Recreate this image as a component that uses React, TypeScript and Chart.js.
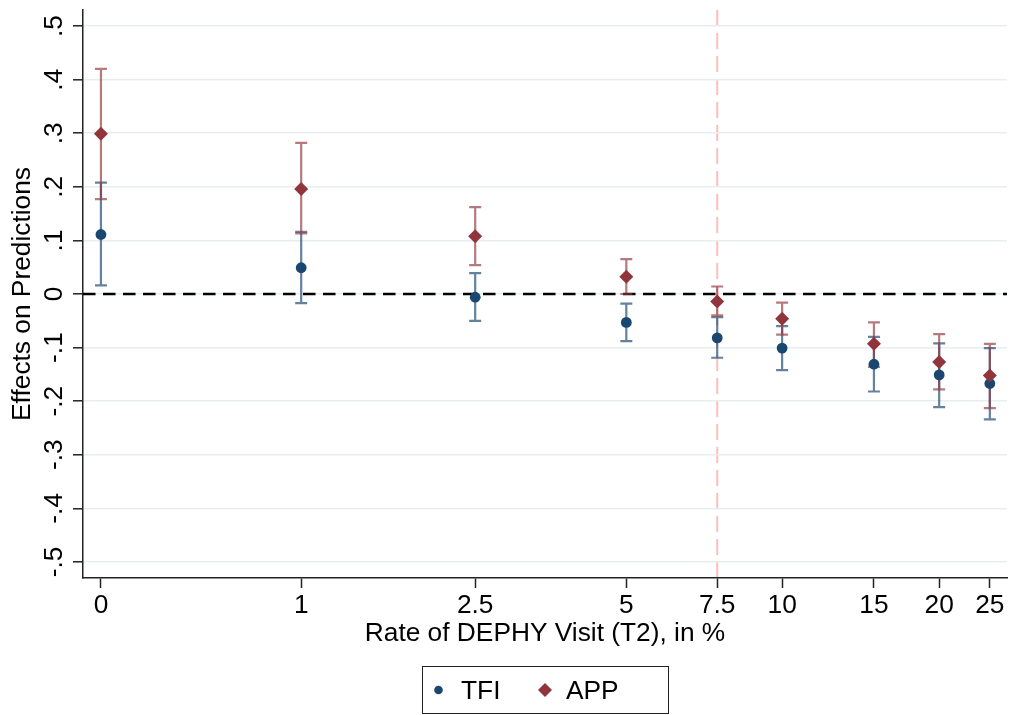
import React, { useEffect, useRef } from "react";
import { Chart, registerables } from "chart.js";

Chart.register(...registerables);

// ---------- data ----------
const rates = [0, 1, 2.5, 5, 7.5, 10, 15, 20, 25];
const xTickLabels = ["0", "1", "2.5", "5", "7.5", "10", "15", "20", "25"];
const yTickValues = [0.5, 0.4, 0.3, 0.2, 0.1, 0, -0.1, -0.2, -0.3, -0.4, -0.5];
const yTickLabels = [".5", ".4", ".3", ".2", ".1", "0", "-.1", "-.2", "-.3", "-.4", "-.5"];

const tfiEst = [0.111, 0.049, -0.006, -0.053, -0.082, -0.101, -0.131, -0.151, -0.167];
const tfiLow = [0.016, -0.017, -0.050, -0.088, -0.119, -0.142, -0.182, -0.211, -0.234];
const tfiHigh = [0.208, 0.116, 0.039, -0.018, -0.043, -0.060, -0.080, -0.092, -0.101];

const appEst = [0.299, 0.196, 0.108, 0.032, -0.014, -0.046, -0.093, -0.127, -0.152];
const appLow = [0.177, 0.113, 0.054, 0.000, -0.040, -0.076, -0.136, -0.178, -0.213];
const appHigh = [0.420, 0.282, 0.162, 0.065, 0.014, -0.016, -0.053, -0.075, -0.093];

const seriesNames = ["TFI", "APP"];
const zeroValue = 0;
const cutoffRate = 7.5;

// ---------- styles ----------
const FONT = "'Liberation Sans', Arial, Helvetica, sans-serif";
const FS = 26.3;
const NAVY = "#1a476f";
const MAROON = "#90353b";
const NAVY_CI = "rgba(26,71,111,0.68)";
const MAROON_CI = "rgba(144,53,59,0.66)";
const AXIS = "#222222";
const GRID = "#e6eef0";

const tx = (r: number) => Math.asinh(r);

const ciSets = [
  { low: tfiLow, high: tfiHigh, color: NAVY_CI },
  { low: appLow, high: appHigh, color: MAROON_CI },
];

const backgroundLines = {
  id: "backgroundLines",
  beforeDraw(chart: any) {
    const { ctx, chartArea, scales } = chart;
    const x = scales.x.getPixelForValue(tx(cutoffRate));
    ctx.save();
    ctx.strokeStyle = "rgba(255,0,0,0.26)";
    ctx.lineWidth = 2;
    ctx.setLineDash([16, 7]);
    ctx.beginPath();
    ctx.moveTo(x, chartArea.top);
    ctx.lineTo(x, chartArea.bottom);
    ctx.stroke();
    ctx.restore();
  },
};

const refAndErrorBars = {
  id: "refAndErrorBars",
  beforeDatasetsDraw(chart: any) {
    const { ctx, chartArea, scales } = chart;
    const xs = scales.x;
    const ys = scales.y;
    // zero line
    const y0 = ys.getPixelForValue(zeroValue);
    ctx.save();
    ctx.strokeStyle = "#000";
    ctx.lineWidth = 2.5;
    ctx.setLineDash([12.5, 7.5]);
    ctx.beginPath();
    ctx.moveTo(chartArea.left, y0);
    ctx.lineTo(chartArea.right, y0);
    ctx.stroke();
    ctx.restore();
    // error bars
    const cap = 6;
    ciSets.forEach((s) => {
      ctx.save();
      ctx.strokeStyle = s.color;
      ctx.lineWidth = 2.2;
      rates.forEach((r, i) => {
        const px = xs.getPixelForValue(tx(r));
        const pl = ys.getPixelForValue(s.low[i]);
        const ph = ys.getPixelForValue(s.high[i]);
        ctx.beginPath();
        ctx.moveTo(px, ph);
        ctx.lineTo(px, pl);
        ctx.moveTo(px - cap, ph);
        ctx.lineTo(px + cap, ph);
        ctx.moveTo(px - cap, pl);
        ctx.lineTo(px + cap, pl);
        ctx.stroke();
      });
      ctx.restore();
    });
  },
};

const yLabelsAndLegend = {
  id: "yLabelsAndLegend",
  afterDraw(chart: any) {
    const { ctx, chartArea, scales } = chart;
    const ys = scales.y;
    ctx.save();
    ctx.fillStyle = "#000";
    ctx.font = `${FS}px ${FONT}`;
    ctx.textAlign = "center";
    ctx.textBaseline = "alphabetic";
    yTickValues.forEach((v, i) => {
      const py = ys.getPixelForValue(v);
      ctx.save();
      ctx.translate(chartArea.left - 21.5, py);
      ctx.rotate(-Math.PI / 2);
      ctx.fillText(yTickLabels[i], 0, 0);
      ctx.restore();
    });
    ctx.restore();

    // legend
    const cx = (chartArea.left + chartArea.right) / 2;
    const bx = Math.round(cx - 123.5) + 0.5;
    const by = 666.5;
    ctx.save();
    ctx.strokeStyle = AXIS;
    ctx.lineWidth = 1;
    ctx.strokeRect(bx, by, 246, 47);
    const my = 690;
    const ds = chart.data.datasets;
    // TFI circle
    ctx.fillStyle = ds[0].backgroundColor;
    ctx.beginPath();
    ctx.arc(bx + 16, my, 4.3, 0, Math.PI * 2);
    ctx.fill();
    // APP diamond
    ctx.fillStyle = ds[1].backgroundColor;
    const dx = bx + 122.5;
    const r = 7;
    ctx.beginPath();
    ctx.moveTo(dx - r, my);
    ctx.lineTo(dx, my - r);
    ctx.lineTo(dx + r, my);
    ctx.lineTo(dx, my + r);
    ctx.closePath();
    ctx.fill();
    ctx.fillStyle = "#000";
    ctx.font = `${FS}px ${FONT}`;
    ctx.textAlign = "left";
    ctx.textBaseline = "alphabetic";
    ctx.fillText(ds[0].label, bx + 38.5, 699);
    ctx.fillText(ds[1].label, bx + 143.5, 699);
    ctx.restore();
  },
};

export default function App() {
  const ref = useRef<HTMLCanvasElement | null>(null);

  useEffect(() => {
    document.body.style.margin = "0";
    const canvas = ref.current;
    if (!canvas) return;
    const chart = new Chart(canvas, {
      type: "scatter",
      data: {
        datasets: [
          {
            label: seriesNames[0],
            data: rates.map((r, i) => ({ x: tx(r), y: tfiEst[i] })),
            backgroundColor: NAVY,
            borderColor: NAVY,
            pointStyle: "circle",
            pointRadius: 5.4,
            pointBorderWidth: 0,
            order: 2,
          },
          {
            label: seriesNames[1],
            data: rates.map((r, i) => ({ x: tx(r), y: appEst[i] })),
            backgroundColor: MAROON,
            borderColor: MAROON,
            pointStyle: "rectRot",
            pointRadius: 7,
            pointBorderWidth: 0,
            order: 1,
          },
        ],
      },
      options: {
        responsive: false,
        animation: false,
        events: [],
        layout: { padding: { left: 0, right: 5, top: 10, bottom: 60 } },
        plugins: {
          legend: { display: false },
          tooltip: { enabled: false },
        },
        scales: {
          x: {
            type: "linear",
            min: -0.079,
            max: 3.988,
            offset: false,
            afterFit: (s: any) => {
              s.height = 77;
            },
            afterBuildTicks: (s: any) => {
              s.ticks = rates.map((r) => ({ value: tx(r) }));
            },
            grid: {
              display: true,
              drawOnChartArea: false,
              drawTicks: true,
              tickLength: 10,
              tickColor: AXIS,
              tickWidth: 1.5,
            },
            border: { display: true, color: AXIS, width: 1.5 },
            ticks: {
              autoSkip: false,
              maxRotation: 0,
              minRotation: 0,
              padding: 2,
              color: "#000",
              font: { family: FONT, size: FS },
              callback: (_v: any, i: number) => xTickLabels[i],
            },
            title: {
              display: true,
              text: "Rate of DEPHY Visit (T2), in %",
              color: "#000",
              font: { family: FONT, size: FS },
              padding: { top: 0, bottom: 5 },
            },
          },
          y: {
            type: "linear",
            min: -0.53,
            max: 0.53,
            afterFit: (s: any) => {
              s.width = 83;
            },
            afterBuildTicks: (s: any) => {
              s.ticks = yTickValues.map((v) => ({ value: v }));
            },
            grid: {
              display: true,
              drawOnChartArea: true,
              color: GRID,
              lineWidth: 1.6,
              drawTicks: true,
              tickLength: 10,
              tickColor: AXIS,
              tickWidth: 1.5,
            },
            border: { display: true, color: AXIS, width: 1.5 },
            ticks: { display: false },
            title: {
              display: true,
              text: "Effects on Predictions",
              color: "#000",
              font: { family: FONT, size: FS },
              padding: { top: 6.8, bottom: 0 },
            },
          },
        },
      },
      plugins: [backgroundLines, refAndErrorBars, yLabelsAndLegend],
    } as any);
    return () => chart.destroy();
  }, []);

  return (
    <canvas
      ref={ref}
      width={1014}
      height={715}
      style={{ display: "block", width: 1014, height: 715 }}
    />
  );
}
